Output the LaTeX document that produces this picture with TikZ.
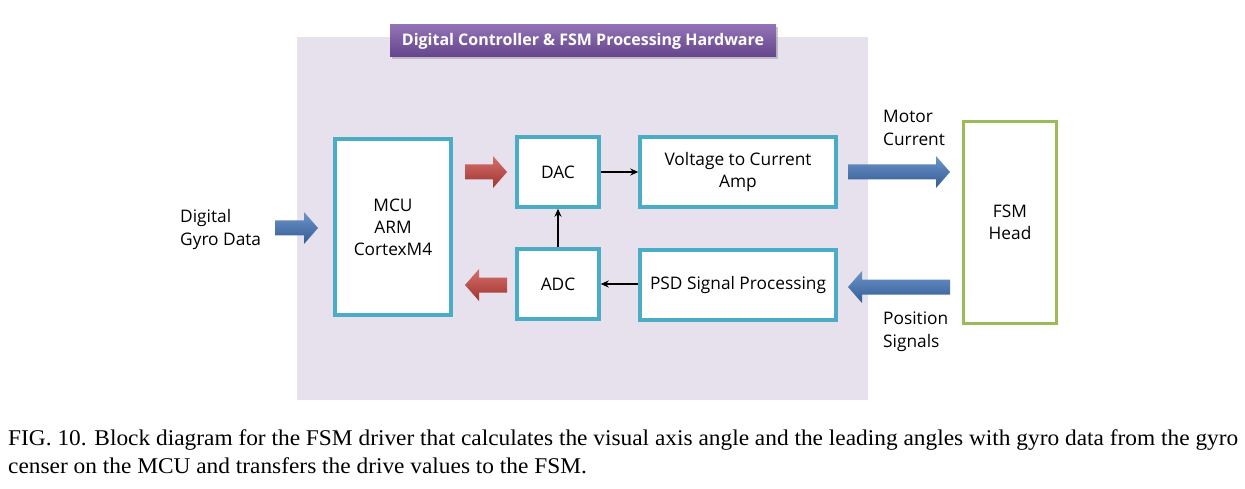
\documentclass[tikz,border=0pt]{standalone}
\usepackage{fontspec}
\setmainfont{Liberation Serif}
\newfontfamily\diagfont{Open Sans}
\usetikzlibrary{shadows,arrows.meta}
\definecolor{lav}{HTML}{E6E1ED}
\definecolor{purp}{HTML}{7650A3}
\definecolor{tealb}{HTML}{4BACC6}
\definecolor{grn}{HTML}{9BBB59}
\definecolor{blu}{HTML}{3E72B8}
\definecolor{rdd}{HTML}{C8403A}
\newsavebox\capbox
\begin{document}
\sbox\capbox{\fontsize{22.5}{28}\selectfont FIG. 10. Block diagram for the FSM driver that calculates the visual axis angle and the leading angles with gyro data from the gyro}%
\begin{tikzpicture}[x=1pt,y=-1pt,
  box/.style={draw=tealb,line width=3.5pt,fill=white,inner sep=0pt,
    font=\diagfont\fontsize{17.3}{22}\selectfont,align=center},
  lbl/.style={font=\diagfont\fontsize{17.3}{23}\selectfont,align=left,inner sep=0pt},
  conn/.style={-{Stealth[length=8pt,width=7pt]},line width=1.5pt},
  pics/barrow/.style args={#1/#2}{code={
    \shade[top color=#2!75!white,bottom color=#2!80!black,draw=none]
      (0,-7.5) -- ({#1-14},-7.5) -- ({#1-14},-16) -- (#1,0) -- ({#1-14},16)
      -- ({#1-14},7.5) -- (0,7.5) -- cycle;}}
]
\useasboundingbox (0,0) rectangle (1245,489);
\fill[white] (0,0) rectangle (1245,489);
% background panel
\fill[lav] (297,37) rectangle (868,400);
\node[top color=purp!80!white,bottom color=purp!85!black,minimum width=386,minimum height=32,inner sep=0pt,
  drop shadow={shadow xshift=2pt,shadow yshift=-2pt,opacity=0.4},
  text=white,font=\diagfont\bfseries\fontsize{16}{18}\selectfont] (title) at (583,41)
  {Digital Controller \& FSM Processing Hardware};
% blocks
\node[box,minimum width=116,minimum height=176] (mcu) at (393,227) {MCU\\ARM\\CortexM4};
\node[box,minimum width=82,minimum height=70] (dac) at (558,172) {DAC};
\node[box,minimum width=82,minimum height=70] (adc) at (558,284) {ADC};
\node[box,minimum width=196,minimum height=70] (vtc) at (738,172) {Voltage to Current\\Amp};
\node[box,minimum width=196,minimum height=70] (psd) at (738,285) {PSD Signal Processing};
\node[box,draw=grn,line width=3pt,minimum width=93,minimum height=202] (fsm) at (1010,222.5) {FSM\\Head};
% thin connectors
\draw[conn] (dac.east) -- (vtc.west);
\draw[conn] (adc.north) -- (dac.south);
\draw[conn] (psd.west |- adc.east) -- (adc.east);
% block arrows
\pic at (275,228) {barrow=43/blu};
\pic at (465,172) {barrow=42/rdd};
\pic[xscale=-1] at (507,285) {barrow=42/rdd};
\pic at (848,172) {barrow=102/blu};
\pic[xscale=-1] at (950,287) {barrow=102/blu};
% labels
\node[lbl,anchor=west] (gyro) at (180,230) {Digital\\Gyro Data};
\node[lbl,anchor=west] (motor) at (883,128) {Motor\\Current};
\node[lbl,anchor=west] (pos) at (883,332) {Position\\Signals};
% caption
\pgfmathsetmacro\capsc{1230/\the\wd\capbox}
\node[anchor=base west,inner sep=0pt] (cap) at (8,445) {\scalebox{\capsc}[1]{\fontsize{22.5}{28}\selectfont
  \begin{tabular}[t]{@{}l@{}}FIG. 10. Block diagram for the FSM driver that calculates the visual axis angle and the leading angles with gyro data from the gyro\\
  censer on the MCU and transfers the drive values to the FSM.\end{tabular}}};
\end{tikzpicture}
\end{document}
